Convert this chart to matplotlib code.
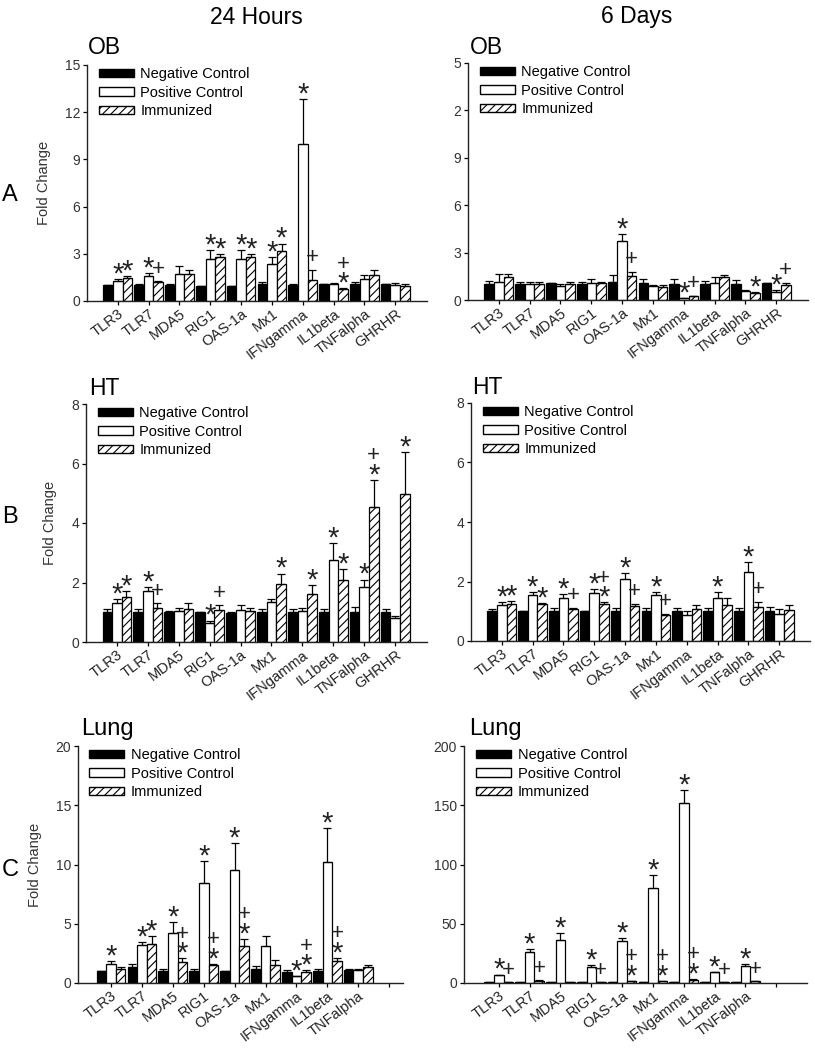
import numpy as np
import matplotlib
matplotlib.use("Agg")
import matplotlib.pyplot as plt
from matplotlib.patches import Patch

plt.rcParams['font.family'] = ['Liberation Sans', 'DejaVu Sans']
plt.rcParams['hatch.linewidth'] = 0.8

genes10 = ["TLR3", "TLR7", "MDA5", "RIG1", "OAS-1a", "Mx1", "IFNgamma", "IL1beta", "TNFalpha", "GHRHR"]
genes9 = ["TLR3", "TLR7", "MDA5", "RIG1", "OAS-1a", "Mx1", "IFNgamma", "IL1beta", "TNFalpha", ""]
series_names = ["Negative Control", "Positive Control", "Immunized"]

# ---------- A: OB, 24 hours ----------
ob24_neg = [1.0, 1.0, 1.0, 0.95, 0.95, 1.1, 1.0, 1.05, 1.1, 1.05]
ob24_neg_err = [0.02, 0.05, 0.1, 0.02, 0.02, 0.1, 0.1, 0.03, 0.1, 0.03]
ob24_pos = [1.3, 1.6, 1.7, 2.7, 2.7, 2.35, 10.0, 1.07, 1.4, 1.0]
ob24_pos_err = [0.12, 0.15, 0.5, 0.55, 0.55, 0.45, 2.85, 0.08, 0.25, 0.15]
ob24_imm = [1.45, 1.2, 1.7, 2.8, 2.8, 3.2, 1.35, 0.75, 1.63, 0.95]
ob24_imm_err = [0.15, 0.05, 0.3, 0.2, 0.2, 0.45, 0.65, 0.05, 0.32, 0.15]
ob24_pos_sig = ["*", "*", "", "*", "*", "*", "*", "", "", ""]
ob24_imm_sig = ["*", "+", "", "*", "*", "*", "+", "*+", "", ""]

# ---------- A: OB, 6 days ----------
ob6_neg = [1.0, 1.0, 1.05, 1.0, 1.15, 1.05, 1.0, 1.0, 1.0, 1.05]
ob6_neg_err = [0.2, 0.15, 0.03, 0.15, 0.45, 0.3, 0.3, 0.2, 0.25, 0.03]
ob6_pos = [1.15, 1.0, 0.9, 1.1, 3.75, 0.9, 0.15, 1.05, 0.6, 0.5]
ob6_pos_err = [0.5, 0.15, 0.1, 0.25, 0.4, 0.05, 0.0, 0.4, 0.05, 0.15]
ob6_imm = [1.45, 1.0, 1.0, 1.05, 1.55, 0.85, 0.25, 1.45, 0.45, 0.95]
ob6_imm_err = [0.2, 0.15, 0.15, 0.1, 0.25, 0.1, 0.03, 0.15, 0.03, 0.15]
ob6_pos_sig = ["", "", "", "", "*", "", "*", "", "", "*"]
ob6_imm_sig = ["", "", "", "", "+", "", "+", "", "*", "+"]
ob6_ytick_labels = ["0", "3", "6", "9", "2", "5"]

# ---------- B: HT, 24 hours ----------
ht24_neg = [1.0, 1.0, 1.0, 1.0, 0.98, 1.0, 1.0, 1.0, 1.0, 1.0]
ht24_neg_err = [0.12, 0.12, 0.05, 0.02, 0.02, 0.12, 0.12, 0.12, 0.17, 0.1]
ht24_pos = [1.3, 1.7, 1.05, 0.65, 1.07, 1.35, 1.03, 2.77, 1.85, 0.8]
ht24_pos_err = [0.15, 0.15, 0.1, 0.07, 0.16, 0.1, 0.12, 0.56, 0.25, 0.08]
ht24_imm = [1.5, 1.15, 1.1, 1.07, 1.03, 1.95, 1.6, 2.08, 4.53, 4.97]
ht24_imm_err = [0.2, 0.15, 0.2, 0.16, 0.12, 0.35, 0.3, 0.37, 0.92, 1.41]
ht24_pos_sig = ["*", "*", "", "*", "", "", "", "*", "*", ""]
ht24_imm_sig = ["*", "+", "", "+", "", "*", "*", "*", "*+", "*"]

# ---------- B: HT, 6 days ----------
ht6_neg = [1.0, 1.0, 1.0, 1.0, 1.0, 1.0, 1.0, 1.0, 1.0, 1.0]
ht6_neg_err = [0.08, 0.02, 0.1, 0.02, 0.1, 0.12, 0.12, 0.12, 0.12, 0.15]
ht6_pos = [1.22, 1.53, 1.43, 1.6, 2.1, 1.53, 0.87, 1.46, 2.33, 0.92]
ht6_pos_err = [0.08, 0.12, 0.14, 0.16, 0.17, 0.12, 0.13, 0.19, 0.31, 0.14]
ht6_imm = [1.26, 1.24, 1.08, 1.24, 1.17, 0.87, 1.08, 1.2, 1.15, 1.03]
ht6_imm_err = [0.07, 0.04, 0.04, 0.06, 0.09, 0.05, 0.12, 0.23, 0.17, 0.17]
ht6_pos_sig = ["*", "*", "*", "*", "*", "*", "", "*", "*", ""]
ht6_imm_sig = ["*", "*", "+", "*+", "+", "+", "", "", "+", ""]

# ---------- C: Lung, 24 hours ----------
lu24_neg = [0.98, 1.32, 0.98, 0.98, 0.98, 1.18, 0.93, 0.98, 1.12]
lu24_neg_err = [0.03, 0.31, 0.2, 0.2, 0.03, 0.22, 0.19, 0.2, 0.03]
lu24_pos = [1.63, 3.17, 4.21, 8.48, 9.55, 3.09, 0.56, 10.2, 1.12]
lu24_pos_err = [0.2, 0.26, 0.93, 1.83, 2.25, 0.84, 0.02, 2.86, 0.03]
lu24_imm = [1.18, 3.31, 1.77, 1.55, 3.09, 1.55, 0.9, 1.83, 1.35]
lu24_imm_err = [0.14, 0.62, 0.31, 0.08, 0.62, 0.36, 0.17, 0.27, 0.2]
lu24_pos_sig = ["*", "*", "*", "*", "*", "", "*", "*", ""]
lu24_imm_sig = ["", "*", "*+", "*+", "*+", "", "*+", "*+", ""]

# ---------- C: Lung, 6 days ----------
lu6_neg = [1.0, 1.0, 1.0, 1.0, 1.0, 1.0, 1.0, 1.0, 1.0]
lu6_neg_err = [0.2, 0.2, 0.2, 0.2, 0.2, 0.2, 0.2, 0.2, 0.2]
lu6_pos = [6.5, 25.8, 36.5, 13.5, 35.1, 80.0, 151.7, 9.0, 14.6]
lu6_pos_err = [0.6, 2.9, 5.5, 1.9, 2.8, 11.3, 11.3, 0.5, 1.7]
lu6_imm = [0.8, 2.0, 0.5, 0.5, 1.4, 1.6, 2.8, 0.5, 1.5]
lu6_imm_err = [0.1, 0.2, 0.1, 0.1, 0.2, 0.2, 0.4, 0.1, 0.2]
lu6_pos_sig = ["*", "*", "*", "*", "*", "*", "*", "*", "*"]
lu6_imm_sig = ["+", "+", "", "+", "*+", "*+", "*+", "+", "+"]

FIG_W, FIG_H = 815, 1050
fig = plt.figure(figsize=(FIG_W / 100, FIG_H / 100), dpi=100)


def px_axes(l, t, r, b):
    return fig.add_axes([l / FIG_W, 1 - b / FIG_H, (r - l) / FIG_W, (b - t) / FIG_H])


BW = 0.31
STAR_FS = 21
PLUS_FS = 16


def draw_panel(ax, labels, neg, neg_e, pos, pos_e, imm, imm_e, pos_sig, imm_sig,
               ymax, ystep, xlim, ytl=None):
    n = len(neg)
    x = np.arange(n)
    kw = dict(width=BW, edgecolor='black', linewidth=0.9, zorder=2)
    ekw = dict(ecolor='black', elinewidth=0.9, capsize=3, capthick=0.9)
    ax.bar(x - BW, neg, color='black', yerr=[np.zeros(n), neg_e], error_kw=ekw, **kw)
    ax.bar(x, pos, color='white', yerr=[np.zeros(n), pos_e], error_kw=ekw, **kw)
    ax.bar(x + BW, imm, color='white', hatch='////', yerr=[np.zeros(n), imm_e], error_kw=ekw, **kw)
    for xs, vals, errs, sigs in ((x, pos, pos_e, pos_sig), (x + BW, imm, imm_e, imm_sig)):
        for xi, v, e, s in zip(xs, vals, errs, sigs):
            top = v + e
            if '*' in s:
                ax.annotate('*', xy=(xi, top), xytext=(0, -2.5), textcoords='offset points',
                            ha='center', va='baseline', fontsize=STAR_FS, color='#222222')
            if '+' in s:
                off = 13.5 if '*' in s else 4.5
                ax.annotate('+', xy=(xi, top), xytext=(0, off), textcoords='offset points',
                            ha='center', va='baseline', fontsize=PLUS_FS, color='#222222')
    ax.set_ylim(0, ymax)
    ax.set_xlim(*xlim)
    ticks = np.arange(0, ymax + ystep / 2, ystep)
    ax.set_yticks(ticks)
    if ytl is not None:
        ax.set_yticklabels(ytl)
    else:
        ax.set_yticklabels([f"{t:g}" for t in ticks])
    nt = len(labels)
    ax.set_xticks(np.arange(nt))
    ax.set_xticklabels(labels, rotation=37, ha='right', rotation_mode='anchor', fontsize=10.5,
                       color='#222222')
    for sp in ('top', 'right'):
        ax.spines[sp].set_visible(False)
    for sp in ('left', 'bottom'):
        ax.spines[sp].set_linewidth(1.0)
        ax.spines[sp].set_color('#222222')
    ax.tick_params(axis='y', direction='out', length=3, width=0.9, labelsize=10,
                   labelcolor='#333333', pad=2)
    ax.tick_params(axis='x', direction='out', length=3, width=0.9, pad=1)
    handles = [Patch(facecolor='black', edgecolor='black'),
               Patch(facecolor='white', edgecolor='black'),
               Patch(facecolor='white', edgecolor='black', hatch='////')]
    ax.legend(handles, series_names, loc='upper left', frameon=False, fontsize=10.5,
              handlelength=2.4, handleheight=0.5, labelspacing=0.3, handletextpad=0.45,
              borderaxespad=0.0, borderpad=0.0, bbox_to_anchor=(0.035, 0.99))


axA1 = px_axes(87, 65, 427, 301)
draw_panel(axA1, genes10, ob24_neg, ob24_neg_err, ob24_pos, ob24_pos_err, ob24_imm, ob24_imm_err,
           ob24_pos_sig, ob24_imm_sig, 15, 3, (-1, 10.03))
axA2 = px_axes(468, 63, 808, 300)
draw_panel(axA2, genes10, ob6_neg, ob6_neg_err, ob6_pos, ob6_pos_err, ob6_imm, ob6_imm_err,
           ob6_pos_sig, ob6_imm_sig, 15, 3, (-1, 10.03), ytl=ob6_ytick_labels)
axB1 = px_axes(86, 404, 427, 642)
draw_panel(axB1, genes10, ht24_neg, ht24_neg_err, ht24_pos, ht24_pos_err, ht24_imm, ht24_imm_err,
           ht24_pos_sig, ht24_imm_sig, 8, 2, (-1, 10.03))
axB2 = px_axes(471, 403, 810, 641)
draw_panel(axB2, genes10, ht6_neg, ht6_neg_err, ht6_pos, ht6_pos_err, ht6_imm, ht6_imm_err,
           ht6_pos_sig, ht6_imm_sig, 8, 2, (-1, 10.0))
axC1 = px_axes(78, 746, 403, 983)
draw_panel(axC1, genes9, lu24_neg, lu24_neg_err, lu24_pos, lu24_pos_err, lu24_imm, lu24_imm_err,
           lu24_pos_sig, lu24_imm_sig, 20, 5, (-1.07, 9.45))
axC2 = px_axes(464, 746, 807, 983)
draw_panel(axC2, genes9, lu6_neg, lu6_neg_err, lu6_pos, lu6_pos_err, lu6_imm, lu6_imm_err,
           lu6_pos_sig, lu6_imm_sig, 200, 50, (-1.13, 10.0))

for ax in (axA1, axB1, axC1):
    ax.set_ylabel("Fold Change", fontsize=10.5, color='#333333', labelpad=10)


def ftext(xp, yp, s, **kw):
    fig.text(xp / FIG_W, 1 - yp / FIG_H, s, **kw)


ftext(256, 18, "24 Hours", ha='center', va='center', fontsize=16.5)
ftext(637, 17, "6 Days", ha='center', va='center', fontsize=16.5)
ftext(88, 48, "OB", ha='left', va='center', fontsize=16.5)
ftext(470, 47, "OB", ha='left', va='center', fontsize=16.5)
ftext(89, 388, "HT", ha='left', va='center', fontsize=16.5)
ftext(472, 387, "HT", ha='left', va='center', fontsize=16.5)
ftext(81, 729, "Lung", ha='left', va='center', fontsize=17)
ftext(469, 729, "Lung", ha='left', va='center', fontsize=17)
ftext(10, 195, "A", ha='center', va='center', fontsize=17)
ftext(10, 517, "B", ha='center', va='center', fontsize=17)
ftext(10, 870, "C", ha='center', va='center', fontsize=17)

fig.savefig("out.png", dpi=100, facecolor='white')
